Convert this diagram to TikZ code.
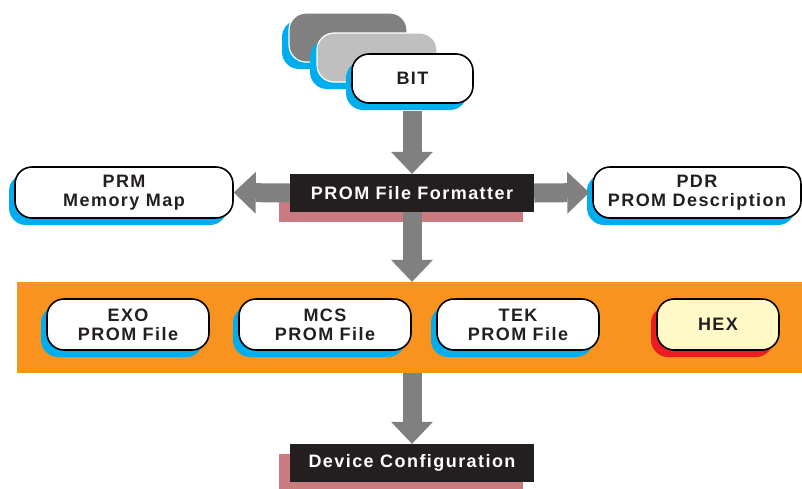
\documentclass[tikz,border=0pt]{standalone}
\usepackage{fontspec}
\setmainfont{Liberation Sans}[LetterSpace=8]
\usepackage{tikz}
\usetikzlibrary{arrows.meta}
\usetikzlibrary{shadows}
\usepackage{xcolor}

\definecolor{ink}{HTML}{231F20}
\definecolor{cyanshade}{HTML}{00AEEF}
\definecolor{redshade}{HTML}{ED1C24}
\definecolor{bandorange}{HTML}{F7931E}
\definecolor{stagepink}{HTML}{C97B80}
\definecolor{arrowgray}{HTML}{808080}
\definecolor{stackdark}{HTML}{808080}
\definecolor{stacklight}{HTML}{BFBFBF}
\definecolor{hexyellow}{HTML}{FFF9C8}
\newcommand{\boxfont}{\bfseries\fontsize{18}{19}\selectfont}

\begin{document}
\begin{tikzpicture}[x=1pt,y=-1pt,
  card/.style={draw=black, line width=1.6pt, fill=white, rounded corners=17pt,
    inner sep=0pt, align=center, text=ink, font=\boxfont,
    drop shadow={shadow xshift=-6pt, shadow yshift=-7pt, fill=#1, opacity=1}},
  card/.default=cyanshade,
  ghost/.style={draw=white, line width=1.2pt, rounded corners=17pt, inner sep=0pt,
    minimum height=49pt,
    drop shadow={shadow xshift=-7pt, shadow yshift=-7pt, fill=cyanshade, opacity=1}},
  stage/.style={fill=ink, text=white, font=\boxfont, inner sep=0pt,
    minimum width=244pt, minimum height=38pt,
    drop shadow={shadow xshift=-11pt, shadow yshift=-10pt, fill=stagepink, opacity=1}},
  flow/.style={draw=arrowgray, line width=19pt,
    -{Triangle[width=42pt,length=22pt,line width=0pt]}}]
  \useasboundingbox (0,0) rectangle (802,488);

  \node[ghost, fill=stackdark, minimum width=118pt] (stackA) at (348,37.5) {};
  \node[ghost, fill=stacklight, minimum width=120pt] (stackB) at (377,57.5) {};
  \node[card, minimum width=121pt, minimum height=49pt] (bit) at (412.5,78.5) {BIT};

  \node[card, minimum width=218pt, minimum height=51pt] (prm) at (124,192.5) {PRM\\Memory Map};
  \node[stage] (fmt) at (412,193) {PROM File Formatter};
  \node[card, minimum width=208pt, minimum height=51pt] (pdr) at (697,192.5) {PDR\\PROM Description};

  \node[fill=bandorange, inner sep=0pt, minimum width=785pt, minimum height=91pt] (band) at (409.5,327.5) {};
  \node[card, minimum width=162pt, minimum height=51pt] (exo) at (128,324.5) {EXO\\PROM File};
  \node[card, minimum width=172pt, minimum height=51pt] (mcs) at (325,324.5) {MCS\\PROM File};
  \node[card, minimum width=162pt, minimum height=51pt] (tek) at (518,324.5) {TEK\\PROM File};
  \node[card=redshade, fill=hexyellow, minimum width=122pt, minimum height=51pt] (hex) at (718,324.5) {HEX};

  \node[stage] (dev) at (412,463) {Device Configuration};

  \draw[flow, shorten <=7pt] (fmt.north |- bit.south) -- (fmt.north);
  \draw[flow] (fmt.west) -- (prm.east);
  \draw[flow, shorten >=3pt] (fmt.east) -- (pdr.west);
  \draw[flow] (fmt.south) -- (fmt.south |- band.north);
  \draw[flow] (dev.north |- band.south) -- (dev.north);
\end{tikzpicture}
\end{document}
